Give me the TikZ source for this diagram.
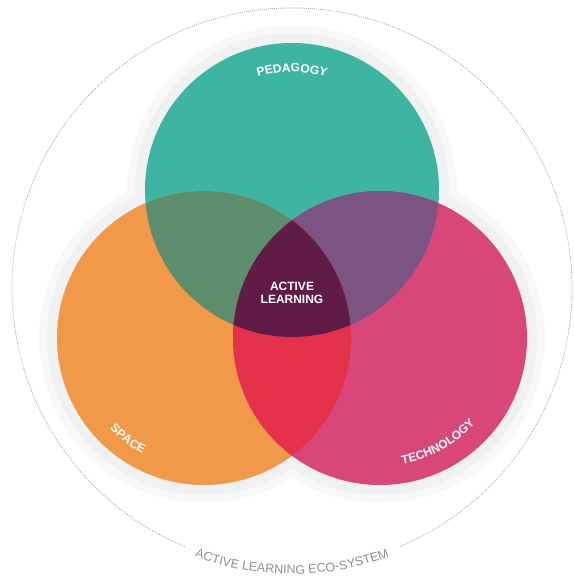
\documentclass[tikz,border=0pt]{standalone}
\usepackage{fontspec}
\setsansfont{Liberation Sans}
\usetikzlibrary{decorations.text}

\definecolor{pedteal}{RGB}{62,180,162}
\definecolor{spaceorange}{RGB}{241,153,72}
\definecolor{techpink}{RGB}{216,70,122}
\definecolor{pedspace}{RGB}{92,142,110}
\definecolor{pedtech}{RGB}{124,84,130}
\definecolor{spacetech}{RGB}{228,50,74}
\definecolor{corewine}{RGB}{96,28,70}
\definecolor{halo}{RGB}{240,241,242}
\definecolor{ecogrey}{RGB}{150,140,140}
\definecolor{ecodot}{RGB}{175,155,155}

\newcommand{\ringfont}{\sffamily\bfseries\fontsize{12}{12}\selectfont}
\newcommand{\ecofont}{\sffamily\fontsize{12.5}{12.5}\selectfont}
\def\rad{147}

\tikzset{
	ringlabel/.style={decorate, decoration={text along path, text align=center, text color=white, text={|\ringfont|#1}}},
	ecodots/.style={ecodot, line width=.8pt, dash pattern=on .8pt off 1.2pt},
}

\begin{document}
\begin{tikzpicture}[x=1pt,y=1pt]
				\useasboundingbox (0,0) rectangle (573,578);
				\fill[white] (0,0) rectangle (573,578);

				\coordinate (ped) at (292,388);
				\coordinate (spc) at (204,240);
				\coordinate (tec) at (380,240);
				\coordinate (eco) at (292,290);

				% halo
				\foreach \c in {ped,spc,tec} \fill[halo!50] (\c) circle[radius=165];
				\foreach \c in {ped,spc,tec} \fill[halo] (\c) circle[radius=157];

				\fill[pedteal] (ped) circle[radius=\rad];
				\fill[spaceorange] (spc) circle[radius=\rad];
				\fill[techpink] (tec) circle[radius=\rad];
				\begin{scope}
					\clip (ped) circle[radius=\rad];
					\fill[pedspace] (spc) circle[radius=\rad];
					\fill[pedtech] (tec) circle[radius=\rad];
				\end{scope}
				\begin{scope}
					\clip (spc) circle[radius=\rad];
					\fill[spacetech] (tec) circle[radius=\rad];
				\end{scope}
				\begin{scope}
					\clip (ped) circle[radius=\rad];
					\clip (spc) circle[radius=\rad];
					\fill[corewine] (tec) circle[radius=\rad];
				\end{scope}

				\node[font=\sffamily\bfseries\fontsize{12}{13.5}\selectfont, text=white, align=center] (core) at (292,285) {ACTIVE\\LEARNING};

				\path[ringlabel=PEDAGOGY] (ped) ++(130:118) arc[start angle=130, end angle=50, radius=118];
				\path[ringlabel=SPACE] (spc) ++(193:131) arc[start angle=193, end angle=273, radius=131];
				\path[ringlabel=TECHNOLOGY] (tec) ++(254:128) arc[start angle=254, end angle=344, radius=128];

				% outer ring
				\draw[ecodots] (eco) ++(292.7:280) arc[start angle=292.7, end angle=607.5, radius=280];
				\path[decorate, decoration={text along path, text align=center, text color=ecogrey, text={|\ecofont|ACTIVE LEARNING ECO-SYSTEM}}] (eco) ++(245:286) arc[start angle=245, end angle=295, radius=286];
			\end{tikzpicture}
\end{document}
